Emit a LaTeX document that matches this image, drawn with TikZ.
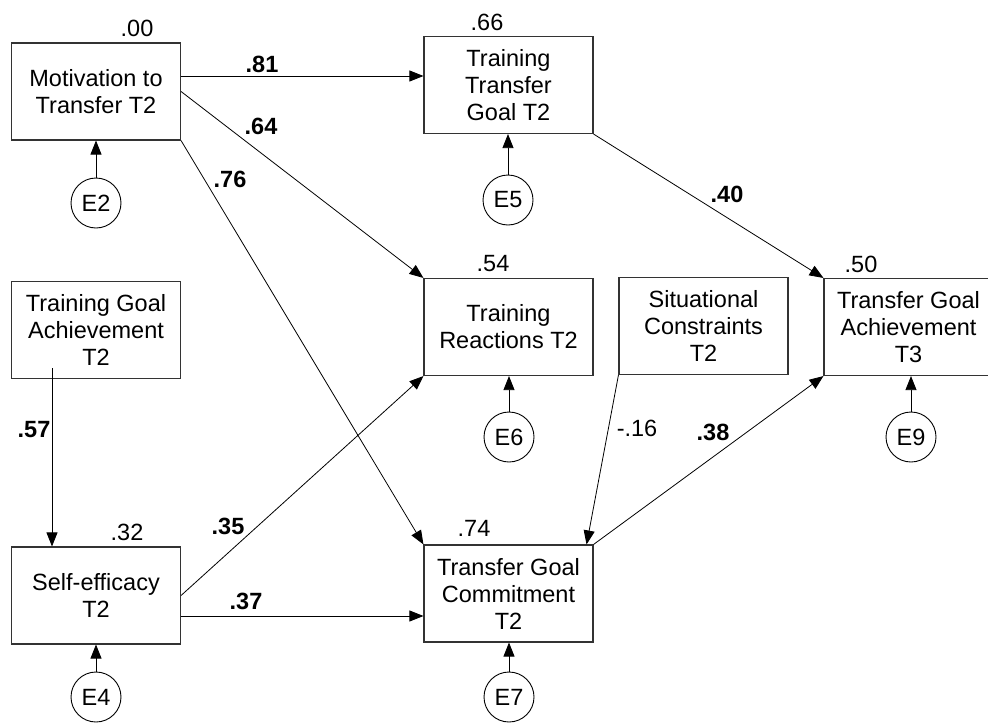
\documentclass[tikz,border=0pt]{standalone}
\usepackage{fontspec}
\setmainfont{Liberation Sans}
\usetikzlibrary{arrows.meta}

\begin{document}
\begin{tikzpicture}[x=1pt, y=-1pt,
  every node/.style={font=\fontsize{23.5}{27}\selectfont},
  var/.style={draw=black!80, line width=1.1pt, rectangle, align=center,
              minimum width=169pt, minimum height=97pt, inner sep=2pt},
  err/.style={draw, line width=0.9pt, circle, minimum size=50pt, inner sep=0pt},
  path/.style={draw, line width=0.8pt, -{Triangle[length=14pt,width=11pt]}},
  coef/.style={inner sep=0pt, font=\fontsize{23.5}{27}\selectfont\bfseries},
  rsq/.style={inner sep=0pt},
  wcoef/.style={inner sep=0pt}]

\useasboundingbox (0,0) rectangle (988,723);
\clip (0,0) rectangle (988,723);

% observed variables
\node[var] (mot) at (96,91.5)   {Motivation to\\Transfer T2};
\node[var] (ttg) at (508.5,85)  {Training\\Transfer\\Goal T2};
\node[var] (tga) at (96,330)    {Training Goal\\Achievement\\T2};
\node[var] (tr)  at (508.5,327) {Training\\Reactions T2};
\node[var] (sc)  at (703.5,326) {Situational\\Constraints\\T2};
\node[var] (t3)  at (908.5,327) {Transfer Goal\\Achievement\\T3};
\node[var] (se)  at (96,595.5)  {Self-efficacy\\T2};
\node[var] (tgc) at (508.5,593.5) {Transfer Goal\\Commitment\\T2};

% error terms
\node[err] (e2) at (96,203)  {E2};
\node[err] (e5) at (508,200) {E5};
\node[err] (e6) at (509,437) {E6};
\node[err] (e9) at (911,437) {E9};
\node[err] (e4) at (96,697)  {E4};
\node[err] (e7) at (509,697) {E7};

\foreach \e/\v in {e2/mot, e5/ttg, e6/tr, e9/t3, e4/se, e7/tgc}
  \draw[path] (\e.north) -- (\e.north |- \v.south);

% explained variance
\node[rsq] (r00) at (137,28)  {.00};
\node[rsq] (r66) at (487,22)  {.66};
\node[rsq] (r54) at (493,264) {.54};
\node[rsq] (r50) at (861,264) {.50};
\node[rsq] (r32) at (127,532) {.32};
\node[rsq] (r74) at (474,528) {.74};

% structural paths
\coordinate (m81) at ([yshift=15.5pt]mot.east);
\draw[path] (m81) -- (m81 -| ttg.west);
\draw[path] (mot.east) -- (tr.north west);
\draw[path] (mot.south east) -- (tgc.north west);
\draw[path] (ttg.south east) -- (t3.north west);
\coordinate (g57) at ([xshift=-44pt,yshift=-38pt]tga.center);
\draw[path] (g57) -- (g57 |- se.north);
\draw[path] (se.east) -- (tr.south west);
\coordinate (s37) at ([yshift=-20.5pt]se.east);
\draw[path] (s37) -- (s37 -| tgc.west);
\draw[path] (sc.south west) -- ([xshift=-7pt]tgc.north east);
\draw[path] (tgc.north east) -- (t3.south west);

% path coefficients
\node[coef] (c81) at (262,64)  {.81};
\node[coef] (c64) at (261,126) {.64};
\node[coef] (c76) at (230,179) {.76};
\node[coef] (c40) at (727,194) {.40};
\node[coef] (c57) at (34,430)  {.57};
\node[coef] (c35) at (228,526) {.35};
\node[coef] (c37) at (246,601) {.37};
\node[coef] (c38) at (713,432) {.38};
\node[wcoef] (c16) at (637,428) {-.16};

\end{tikzpicture}
\end{document}
